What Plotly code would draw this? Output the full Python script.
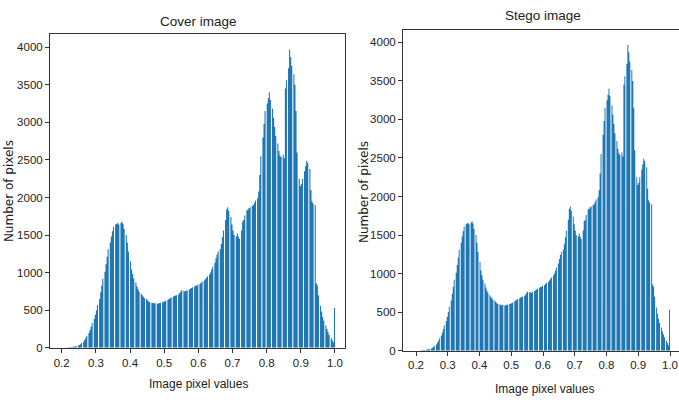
import numpy as np
import plotly.graph_objects as go

W, H = 679, 402

# Gray levels k/255 for k = 52..255 (image pixel values)
first_level = 52
# Number of pixels at each gray level
cover_counts = [
    0, 0, 2, 4, 6, 8, 10, 12, 14, 18,            # 52-61
    22, 28, 36, 48, 62, 80, 104, 130, 160, 195,  # 62-71
    235, 280, 330, 385, 440, 500, 570, 650, 740, 830,  # 72-81
    920, 1010, 1110, 1210, 1310, 1400, 1480, 1550, 1610, 1640,  # 82-91
    1650, 1660, 1640, 1660, 1680, 1650, 1580, 1500, 1400, 1280,  # 92-101
    1150, 1040, 980, 920, 870, 820, 780, 750, 720, 700,  # 102-111
    680, 660, 650, 630, 615, 605, 600, 595, 590, 595,    # 112-121
    585, 590, 595, 600, 605, 610, 620, 625, 640, 650,    # 122-131
    660, 670, 680, 690, 695, 700, 710, 730, 750, 765,    # 132-141
    760, 750, 755, 765, 775, 785, 795, 805, 815, 825,    # 142-151
    830, 840, 850, 865, 880, 895, 910, 930, 950, 975,    # 152-161
    1000, 1040, 1080, 1130, 1190, 1240, 1280, 1310, 1380, 1470,  # 162-171
    1560, 1700, 1840, 1870, 1820, 1740, 1640, 1560, 1500, 1480,  # 172-181
    1520, 1480, 1450, 1560, 1680, 1700, 1760, 1830, 1840, 1860,  # 182-191
    1870, 1890, 1900, 1930, 1960, 1990, 2080, 2300, 2550, 2800,  # 192-201
    2980, 3150, 3250, 3320, 3400, 3300, 3180, 3060, 2940, 2820,  # 202-211
    2720, 2620, 2560, 2540, 2570, 2520, 3450, 3560, 3720, 3970,  # 212-221
    3870, 3750, 3640, 3500, 3150, 2600, 2250, 2150, 2180, 2250,  # 222-231
    2350, 2420, 2490, 2460, 2380, 2100, 1950, 1920, 1900, 860,   # 232-241
    830, 700, 560, 480, 410, 360, 300, 250, 210, 170,            # 242-251
    130, 100, 70, 530,                                           # 252-255
]
# The Stego image histogram is visually indistinguishable from the cover one
stego_counts = list(cover_counts)

levels = np.array([(first_level + i) / 255 for i in range(len(cover_counts))])

x_ticks = [0.2, 0.3, 0.4, 0.5, 0.6, 0.7, 0.8, 0.9, 1.0]
x_tick_text = ["0.2", "0.3", "0.4", "0.5", "0.6", "0.7", "0.8", "0.9", "1.0"]
y_ticks = [0, 500, 1000, 1500, 2000, 2500, 3000, 3500, 4000]

titles = ["Cover image", "Stego image"]
x_title = "Image pixel values"
y_title = "Number of pixels"

BAR = "#1f77b4"
N_BINS = 256
HIST_RANGE = (0.2, 1.0)


def hist_step(counts):
    """Bin the gray-level counts like a 256-bin histogram and return a step outline."""
    h, edges = np.histogram(levels, bins=N_BINS, range=HIST_RANGE, weights=np.array(counts, float))
    xs = list(edges[:-1]) + [edges[-1]]
    ys = list(h) + [h[-1]]
    return xs, ys


fig = go.Figure()
for i, counts in enumerate([cover_counts, stego_counts]):
    xs, ys = hist_step(counts)
    sfx = "" if i == 0 else "2"
    fig.add_trace(go.Scatter(x=xs, y=ys, mode="lines", line_shape="hv",
                             line=dict(width=0, color=BAR), fill="tozeroy",
                             fillcolor=BAR, xaxis="x" + sfx, yaxis="y" + sfx,
                             showlegend=False, hoverinfo="skip"))

SANS = "Liberation Sans, Arial, sans-serif"
TICKFONT = dict(family=SANS, size=11.5, color="#222")
common = dict(showgrid=False, zeroline=False, showline=True,
              linecolor="#333", linewidth=1, ticks="outside", ticklen=4,
              tickcolor="#333", tickwidth=1, tickfont=TICKFONT)


def px_x(p):
    return p / W


def px_y(p):
    return 1 - p / H


fig.update_layout(
    width=W, height=H,
    margin=dict(l=0, r=0, t=0, b=0),
    paper_bgcolor="white", plot_bgcolor="white",
    xaxis=dict(domain=[px_x(50), px_x(345)], range=[0.1657, 1.0293], mirror=True,
               tickvals=x_ticks, ticktext=x_tick_text, anchor="y", **common),
    yaxis=dict(domain=[px_y(353), px_y(35)], range=[0, 4170], mirror=True,
               tickvals=y_ticks, anchor="x", **common),
    xaxis2=dict(domain=[px_x(403), 1.0], range=[0.159, 1.0283], mirror=True,
                tickvals=x_ticks, ticktext=x_tick_text, anchor="y2", **common),
    yaxis2=dict(domain=[px_y(356), px_y(30)], range=[0, 4166], mirror=False,
                tickvals=y_ticks, anchor="x2", **common),
)

TFONT = dict(family=SANS, size=13.5, color="#222")
XLFONT = dict(family=SANS, size=12, color="#222")
YLFONT = dict(family="DejaVu Sans, sans-serif", size=12, color="#222")

ann = [
    dict(text=titles[0], x=px_x(198), y=px_y(22), font=TFONT),
    dict(text=titles[1], x=px_x(543), y=px_y(16), font=TFONT),
    dict(text=x_title, x=px_x(198), y=px_y(390), font=XLFONT),
    dict(text=x_title, x=px_x(544), y=px_y(395), font=XLFONT),
    dict(text=y_title, x=px_x(9), y=px_y(194), font=YLFONT, textangle=-90),
    dict(text=y_title, x=px_x(364), y=px_y(195), font=YLFONT, textangle=-90),
]
for a in ann:
    a.update(xref="paper", yref="paper", xanchor="center", yanchor="middle", showarrow=False)
fig.update_layout(annotations=ann)

fig.write_html("out.html", config={"displayModeBar": False},
               post_script="document.body.style.margin='0px';document.body.style.overflow='hidden';")
